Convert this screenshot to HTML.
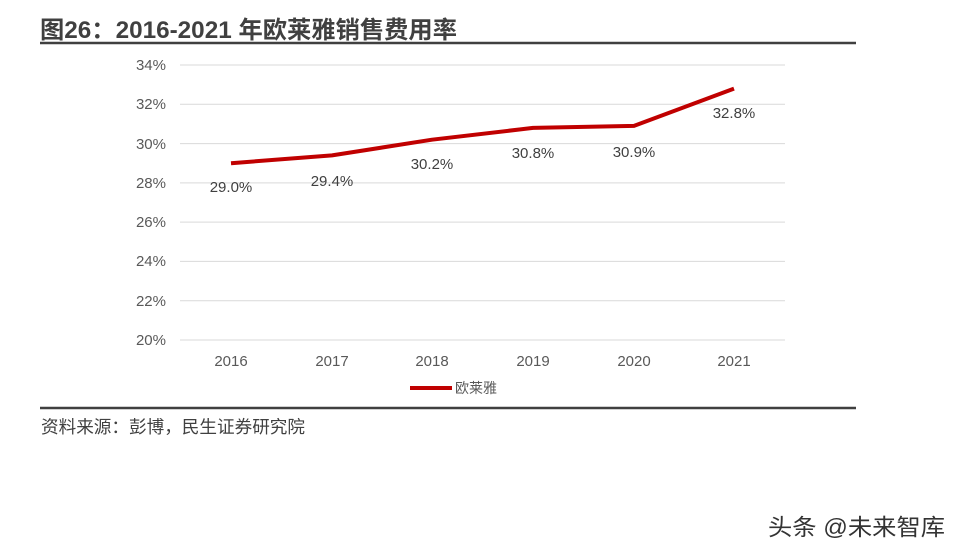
<!DOCTYPE html>
<html><head><meta charset="utf-8"><style>
body{margin:0;background:#fff;width:962px;height:556px;overflow:hidden;font-family:"Liberation Sans","Noto Sans CJK SC",sans-serif;}
</style></head><body>
<svg width="962" height="556" xmlns="http://www.w3.org/2000/svg" style="position:absolute;left:0;top:0">
<text x="40" y="38" font-size="24" font-weight="bold" fill="#404040" textLength="417" lengthAdjust="spacingAndGlyphs" font-family="Liberation Sans, Noto Sans CJK SC, sans-serif">图26：2016-2021 年欧莱雅销售费用率</text>
<line x1="40" y1="43" x2="856" y2="43" stroke="#404040" stroke-width="2.5"/>
<g stroke="#d9d9d9" stroke-width="1">
<line x1="180" y1="65" x2="785" y2="65"/><line x1="180" y1="104.3" x2="785" y2="104.3"/>
<line x1="180" y1="143.6" x2="785" y2="143.6"/><line x1="180" y1="182.9" x2="785" y2="182.9"/>
<line x1="180" y1="222.1" x2="785" y2="222.1"/><line x1="180" y1="261.4" x2="785" y2="261.4"/>
<line x1="180" y1="300.7" x2="785" y2="300.7"/><line x1="180" y1="340" x2="785" y2="340"/>
</g>
<g font-size="15" fill="#595959" text-anchor="end" font-family="Liberation Sans, sans-serif">
<text x="166" y="70">34%</text><text x="166" y="109">32%</text><text x="166" y="149">30%</text>
<text x="166" y="188">28%</text><text x="166" y="227">26%</text><text x="166" y="266">24%</text>
<text x="166" y="306">22%</text><text x="166" y="345">20%</text>
</g>
<g font-size="15" fill="#595959" text-anchor="middle" font-family="Liberation Sans, sans-serif">
<text x="231" y="366">2016</text><text x="332" y="366">2017</text><text x="432" y="366">2018</text>
<text x="533" y="366">2019</text><text x="634" y="366">2020</text><text x="734" y="366">2021</text>
</g>
<polyline points="231,163.2 332,155.4 432,139.7 533,127.9 634,125.9 734,88.6" fill="none" stroke="#C00000" stroke-width="4" stroke-linejoin="round"/>
<g font-size="15" fill="#404040" text-anchor="middle" font-family="Liberation Sans, sans-serif">
<text x="231" y="192">29.0%</text><text x="332" y="186">29.4%</text><text x="432" y="169">30.2%</text>
<text x="533" y="158">30.8%</text><text x="634" y="157">30.9%</text><text x="734" y="118">32.8%</text>
</g>
<line x1="410" y1="388" x2="452" y2="388" stroke="#C00000" stroke-width="4"/>
<text x="455" y="393" font-size="14" fill="#595959">欧莱雅</text>
<line x1="40" y1="408" x2="856" y2="408" stroke="#404040" stroke-width="2.5"/>
<text x="41" y="433" font-size="17.5" fill="#404040" textLength="264" lengthAdjust="spacingAndGlyphs">资料来源：彭博，民生证券研究院</text>
<text x="768" y="535" font-size="23" fill="#333" textLength="177" lengthAdjust="spacingAndGlyphs">头条 @未来智库</text>
</svg>
</body></html>
